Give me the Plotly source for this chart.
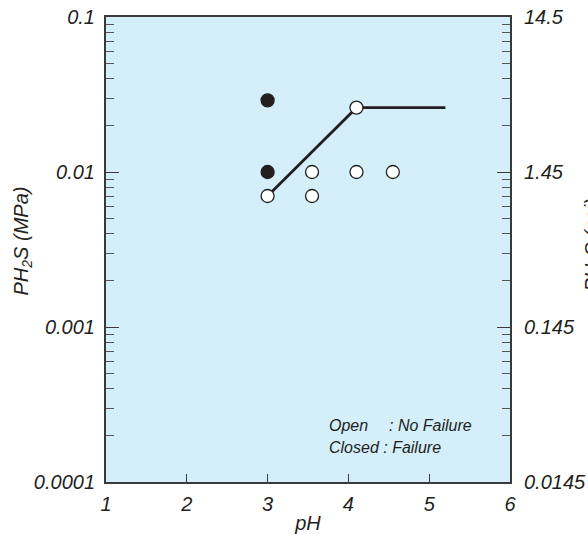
import plotly.graph_objects as go

# Test results: pH vs. H2S partial pressure (MPa)
open_ph = [3.0, 3.55, 3.55, 4.1, 4.1, 4.55]
open_p = [0.007, 0.01, 0.007, 0.026, 0.01, 0.01]
closed_ph = [3.0, 3.0]
closed_p = [0.029, 0.01]
boundary_ph = [3.0, 4.1, 5.2]
boundary_p = [0.007, 0.026, 0.026]

x_ticks = [1, 2, 3, 4, 5, 6]
y_ticks = [0.0001, 0.001, 0.01, 0.1]
y_ticktext = ["0.0001", "0.001", "0.01", "0.1"]
psi_ticktext = ["0.0145", "0.145", "1.45", "14.5"]

INK = "#231f20"
AXIS = "#3a3a3a"
BG = "#d4eefa"
FONT = "Liberation Sans"

fig = go.Figure()

fig.add_trace(go.Scatter(
    x=boundary_ph, y=boundary_p, mode="lines",
    line=dict(color=INK, width=2.8), hoverinfo="skip", showlegend=False,
))
fig.add_trace(go.Scatter(
    x=open_ph, y=open_p, mode="markers",
    marker=dict(symbol="circle", size=13, color="white",
                line=dict(color=INK, width=1.3)),
    showlegend=False,
))
fig.add_trace(go.Scatter(
    x=closed_ph, y=closed_p, mode="markers",
    marker=dict(symbol="circle", size=13, color=INK,
                line=dict(color=INK, width=1.3)),
    showlegend=False,
))
# carrier trace so the secondary (psi) axis is drawn
fig.add_trace(go.Scatter(
    x=[None], y=[None], yaxis="y2", mode="markers", showlegend=False,
    hoverinfo="skip",
))

tick_font = dict(family=FONT, size=20, color=INK, style="italic")
note_font = dict(family=FONT, size=16, color=INK, style="italic")

fig.update_layout(
    width=588, height=535,
    margin=dict(l=106, r=78, t=17, b=53, autoexpand=False),
    paper_bgcolor="white",
    plot_bgcolor=BG,
    xaxis=dict(
        range=[1, 6], tickvals=x_ticks, ticks="inside", ticklen=8,
        tickwidth=1.3, tickcolor=AXIS,
        showline=True, linecolor=AXIS, linewidth=2, mirror=True,
        showgrid=False, zeroline=False, automargin=False,
        tickfont=tick_font, ticklabelstandoff=3,
        title=dict(text="pH", font=tick_font, standoff=2),
    ),
    yaxis=dict(
        type="log", range=[-4, -1], tickvals=y_ticks, ticktext=y_ticktext,
        ticks="inside", ticklen=13, tickwidth=1.3, tickcolor=AXIS,
        minor=dict(ticks="inside", ticklen=8, tickwidth=1.3, tickcolor="#555",
                   dtick="D1", showgrid=False),
        showline=True, linecolor=AXIS, linewidth=2,
        showgrid=False, zeroline=False, automargin=False,
        tickfont=tick_font, ticklabelstandoff=5,
    ),
    yaxis2=dict(
        type="log", range=[-4, -1], overlaying="y", side="right",
        tickvals=y_ticks, ticktext=psi_ticktext,
        ticks="inside", ticklen=13, tickwidth=1.3, tickcolor=AXIS,
        minor=dict(ticks="inside", ticklen=8, tickwidth=1.3, tickcolor="#555",
                   dtick="D1", showgrid=False),
        showline=True, linecolor=AXIS, linewidth=2,
        showgrid=False, zeroline=False, automargin=False,
        tickfont=tick_font, ticklabelstandoff=8,
    ),
    font=dict(family=FONT, color=INK),
    annotations=[
        dict(text="Open", x=0.546, y=0.1205, xref="paper", yref="paper",
             xanchor="left", yanchor="middle", showarrow=False, font=note_font),
        dict(text=": No Failure", x=0.696, y=0.1205, xref="paper", yref="paper",
             xanchor="left", yanchor="middle", showarrow=False, font=note_font),
        dict(text="Closed : Failure", x=0.546, y=0.074, xref="paper", yref="paper",
             xanchor="left", yanchor="middle", showarrow=False, font=note_font),
        # axis titles (left in MPa, right in psi)
        dict(text="PH<sub>2</sub>S (MPa)", x=-0.207, y=0.518,
             xref="paper", yref="paper", textangle=-90,
             xanchor="center", yanchor="middle", showarrow=False,
             font=tick_font),
        dict(text="PH<sub>2</sub>S (psi)", x=1.207, y=0.51,
             xref="paper", yref="paper", textangle=-90,
             xanchor="center", yanchor="middle", showarrow=False,
             font=tick_font),
    ],
)

fig.write_html("out.html")
